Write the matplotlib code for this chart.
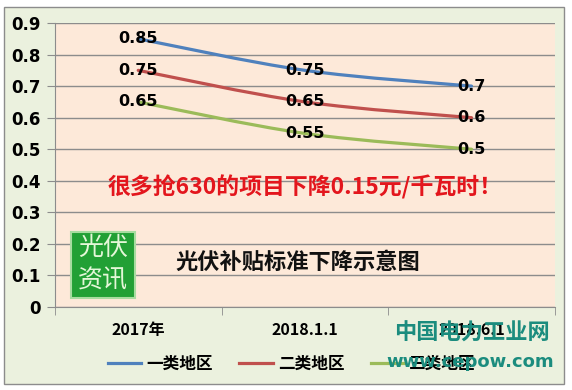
import matplotlib.pyplot as plt
from matplotlib.path import Path
from matplotlib.patches import PathPatch, Rectangle
from matplotlib.lines import Line2D

plt.rcParams['font.family'] = ['Noto Sans CJK SC', 'DejaVu Sans']

categories = ['2017年', '2018.1.1', '2018.6.1']
series_names = ['一类地区', '二类地区', '三类地区']
type1 = [0.85, 0.75, 0.7]
type2 = [0.75, 0.65, 0.6]
type3 = [0.65, 0.55, 0.5]
label1 = ['0.85', '0.75', '0.7']
label2 = ['0.75', '0.65', '0.6']
label3 = ['0.65', '0.55', '0.5']
yticks = [0, 0.1, 0.2, 0.3, 0.4, 0.5, 0.6, 0.7, 0.8, 0.9]
colors = ['#4F81BD', '#C0504D', '#9BBB59']


def smooth_path(xs, ys):
    # Excel-style smoothed line: cubic bezier through each point
    pts = list(zip(xs, ys))
    verts = [pts[0]]
    codes = [Path.MOVETO]
    n = len(pts)
    for i in range(n - 1):
        p0 = pts[max(i - 1, 0)]
        p1 = pts[i]
        p2 = pts[i + 1]
        p3 = pts[min(i + 2, n - 1)]
        c1 = (p1[0] + (p2[0] - p0[0]) / 6, p1[1] + (p2[1] - p0[1]) / 6)
        c2 = (p2[0] - (p3[0] - p1[0]) / 6, p2[1] - (p3[1] - p1[1]) / 6)
        verts += [c1, c2, p2]
        codes += [Path.CURVE4] * 3
    return Path(verts, codes)


fig = plt.figure(figsize=(5.72, 3.9), dpi=100)
fig.patch.set_facecolor('white')
fig.patches.append(Rectangle((0.007, 0.015), 0.979, 0.967, transform=fig.transFigure,
                             facecolor='#EBF1DE', edgecolor='#8C8C8C', lw=1, zorder=-5))

ax = fig.add_axes([0.096, 0.2128, 0.874, 0.7282])
ax.set_facecolor('#FDE9D9')
x = list(range(len(categories)))
ax.set_xlim(-0.5, 2.5)
ax.set_ylim(0, 0.9)

for s, c, labs in zip([type1, type2, type3], colors, [label1, label2, label3]):
    ax.add_patch(PathPatch(smooth_path(x, s), facecolor='none', edgecolor=c, lw=2.3,
                           capstyle='round', zorder=3))
    for xi, yi, t in zip(x, s, labs):
        ax.text(xi, yi, t, ha='center', va='center', fontsize=11.5,
                fontweight='bold', family='DejaVu Sans', color='black', zorder=4)

ax.set_yticks(yticks)
ax.set_yticklabels([('%g' % v) for v in yticks], fontsize=12, fontweight='bold',
                   family='DejaVu Sans')
ax.yaxis.grid(True, color='#8C8C8C', lw=1)
ax.set_axisbelow(True)
ax.tick_params(axis='y', length=6, color='#8C8C8C', pad=4)

ax.set_xticks(x)
ax.set_xticklabels(categories, fontsize=11.5, fontweight='bold')
ax.set_xticks([-0.5, 0.5, 1.5, 2.5], minor=True)
ax.tick_params(axis='x', which='major', length=0, pad=11)
ax.tick_params(axis='x', which='minor', length=6, color='#8C8C8C')

for sp in ['top', 'right']:
    ax.spines[sp].set_visible(False)
for sp in ['left', 'bottom']:
    ax.spines[sp].set_color('#8C8C8C')

ax.text(0.5, 0.42, '很多抢630的项目下降0.15元/千瓦时！', transform=ax.transAxes,
        ha='center', va='center', fontsize=16.5, fontweight='bold', color='#E3161D')
ax.text(0.485, 0.158, '光伏补贴标准下降示意图', transform=ax.transAxes,
        ha='center', va='center', fontsize=16, fontweight='bold', color='#111111')

# green logo box
fig.patches.append(Rectangle((71 / 572, 1 - 298 / 390), 64 / 572, 66 / 390,
                             transform=fig.transFigure, facecolor='#22A035',
                             edgecolor='#A8DCA0', lw=1.5, zorder=5))
fig.text(103 / 572, 1 - 248 / 390, '光伏', ha='center', va='center', fontsize=18,
         color='#E4F7D8', zorder=6)
fig.text(103 / 572, 1 - 280 / 390, '资讯', ha='center', va='center', fontsize=18,
         color='#E4F7D8', zorder=6)

handles = [Line2D([], [], color=c, lw=2.3) for c in colors]
fig.legend(handles, series_names, loc='center', bbox_to_anchor=(0.51, 1 - 364 / 390),
           ncol=3, frameon=False, handlelength=2.0, handletextpad=0.3,
           columnspacing=1.6, prop={'size': 12, 'weight': 'bold'})

# watermark
fig.text(472 / 572, 1 - 333 / 390, '中国电力工业网', ha='center', va='center',
         fontsize=16, fontweight='bold', color='#1B8C7E', zorder=7)
fig.text(470 / 572, 1 - 362 / 390, 'www.cepow.com', ha='center', va='center',
         fontsize=13, fontweight='bold', color='#1B8C7E', family='DejaVu Sans', zorder=7)

fig.savefig('out.png', dpi=100)
